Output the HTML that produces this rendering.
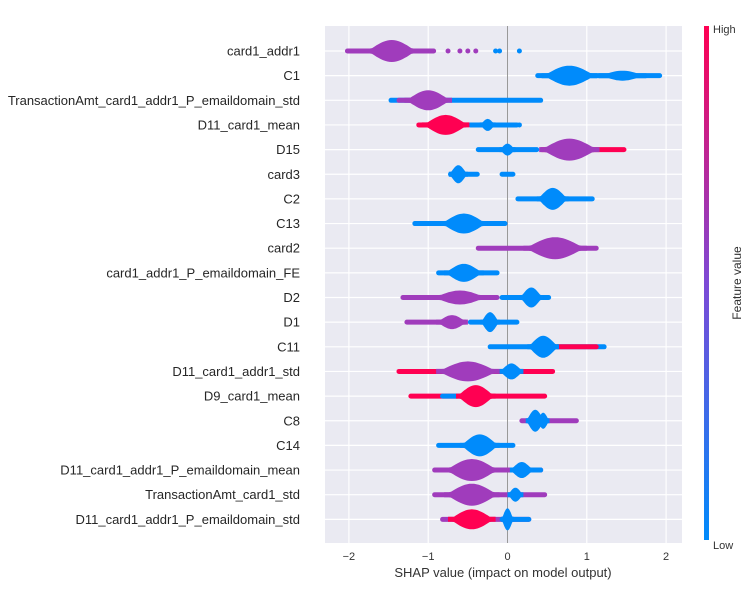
<!DOCTYPE html>
<html><head><meta charset="utf-8"><style>
body{margin:0;background:#fff;font-family:"Liberation Sans",sans-serif}
</style></head><body>
<svg id="chart" width="751" height="586" xmlns="http://www.w3.org/2000/svg" font-family="Liberation Sans, sans-serif">
<defs><linearGradient id="cb" x1="0" y1="1" x2="0" y2="0"><stop offset="0" stop-color="#008bfb"/><stop offset="0.5" stop-color="#7d4ad6"/><stop offset="1" stop-color="#ff0052"/></linearGradient></defs>
<rect x="325" y="26" width="357" height="517" fill="#eaeaf2"/>
<g id="grid"></g><g id="marks"></g><g id="labels"></g>
<rect x="704" y="26" width="5" height="514" fill="url(#cb)"/>
<text x="713" y="33" font-size="11" fill="#333">High</text>
<text x="713" y="549" font-size="11" fill="#333">Low</text>
<text transform="translate(741,283) rotate(-90)" text-anchor="middle" font-size="12" fill="#333">Feature value</text>
<text x="503" y="577" text-anchor="middle" font-size="13" fill="#333">SHAP value (impact on model output)</text>
</svg>
<script>
const features=["card1_addr1","C1","TransactionAmt_card1_addr1_P_emaildomain_std","D11_card1_mean","D15","card3","C2","C13","card2","card1_addr1_P_emaildomain_FE","D2","D1","C11","D11_card1_addr1_std","D9_card1_mean","C8","C14","D11_card1_addr1_P_emaildomain_mean","TransactionAmt_card1_std","D11_card1_addr1_P_emaildomain_std"];
const xTicks=[-2,-1,0,1,2];
const tails=[[[-2.05,-0.9,'p']],[[0.35,1.95,'b']],[[-1.5,0.45,'b'],[-1.4,-0.95,'p']],[[-1.15,-0.5,'r'],[-0.5,0.15,'b']],[[-0.4,0.4,'b'],[0.4,1.5,'r']],[[-0.75,-0.35,'b'],[-0.1,0.1,'b']],[[0.1,1.1,'b']],[[-1.2,0,'b']],[[-0.4,1.15,'p']],[[-0.9,-0.1,'b']],[[-1.35,-0.1,'p'],[-0.1,0.55,'b']],[[-1.3,-0.5,'p'],[-0.5,0.15,'b']],[[-0.25,1.25,'b'],[0.6,1.15,'r']],[[-1.4,0.6,'r']],[[-1.25,0.5,'r'],[-0.85,-0.6,'b']],[[0.15,0.9,'p']],[[-0.9,0.1,'b']],[[-0.95,0.45,'p'],[0.05,0.45,'b']],[[-0.95,0.5,'p']],[[-0.85,0.3,'p'],[-0.1,0.3,'b']]];
const blobs=[[[-1.46,0.33,11,'p']],[[0.78,0.35,10,'b'],[1.45,0.3,5,'b']],[[-1.0,0.3,10,'p']],[[-0.78,0.3,10,'r'],[-0.25,0.1,6,'b']],[[0,0.1,6,'b'],[0.78,0.38,11,'p']],[[-0.62,0.12,9,'b']],[[0.57,0.2,11,'b']],[[-0.55,0.3,10,'b']],[[0.6,0.4,11,'p']],[[-0.55,0.25,9,'b']],[[-0.6,0.35,7,'p'],[0.3,0.15,10,'b']],[[-0.7,0.2,7,'p'],[-0.22,0.12,10,'b']],[[0.45,0.2,11,'b']],[[-0.5,0.4,10,'p'],[0.05,0.15,8,'b']],[[-0.4,0.25,11,'r']],[[0.35,0.12,11,'b'],[0.45,0.08,8,'b']],[[-0.35,0.25,11,'b']],[[-0.45,0.35,11,'p'],[0.18,0.15,8,'b']],[[-0.45,0.35,11,'p'],[0.1,0.1,7,'b']],[[-0.45,0.3,10,'r'],[0,0.08,11,'b']]];
const dots=[[[-0.75,'p'],[-0.6,'p'],[-0.5,'p'],[-0.4,'p'],[-0.15,'b'],[-0.1,'b'],[0.15,'b']],[],[],[[0.15,'b']],[],[],[],[],[],[],[],[],[],[],[],[],[],[],[],[]];
const COL={r:'#ff0052',b:'#008bfb',p:'#a03cbc'};
const x=v=>507.5+v*79.3, y=i=>51+i*24.65;
const NS='http://www.w3.org/2000/svg';
function mk(t,a,p){const e=document.createElementNS(NS,t);for(const k in a)e.setAttribute(k,a[k]);p.appendChild(e);return e;}
const G=document.getElementById('grid'),M=document.getElementById('marks'),L=document.getElementById('labels');
xTicks.forEach(t=>{if(t!==0){const l=mk('line',{x1:x(t),x2:x(t),y1:26,y2:543,stroke:'#fff','stroke-width':1.2},G);}
const tx=mk('text',{x:x(t),y:560,'text-anchor':'middle','font-size':11,fill:'#333'},L);tx.textContent=t<0?'\u2212'+(-t):t;});
features.forEach((f,i)=>{const l=mk('line',{x1:325,x2:682,y1:y(i),y2:y(i),stroke:'#fff','stroke-width':1.2},G);
const t=mk('text',{x:300,y:y(i)+4.5,'text-anchor':'end','font-size':13,fill:'#262626'},L);t.textContent=f;});
const zl=mk('line',{x1:x(0),x2:x(0),y1:26,y2:543,stroke:'#999','stroke-width':1},G);
features.forEach((f,i)=>{const g=mk('g',{},M);
tails[i].forEach(t=>{const r=mk('rect',{x:x(t[0]),y:y(i)-2.5,width:x(t[1])-x(t[0]),height:5,rx:2.5,fill:COL[t[2]]},g);});
blobs[i].forEach(b=>{const cx=x(b[0]),hw=b[1]*79.3,hh=b[2];let top=[],bot=[];for(let k=0;k<=24;k++){const s=-1+k/12;const h=Math.max(2.5,hh*Math.pow(1-s*s,1.6));top.push((cx+s*hw).toFixed(1)+','+(y(i)-h).toFixed(1));bot.unshift((cx+s*hw).toFixed(1)+','+(y(i)+h).toFixed(1));}
const p=mk('polygon',{points:top.concat(bot).join(' '),fill:COL[b[3]]},g);});
dots[i].forEach(d=>{const c=mk('circle',{cx:x(d[0]),cy:y(i),r:2.5,fill:COL[d[1]]},g);});});
</script>
</body></html>
